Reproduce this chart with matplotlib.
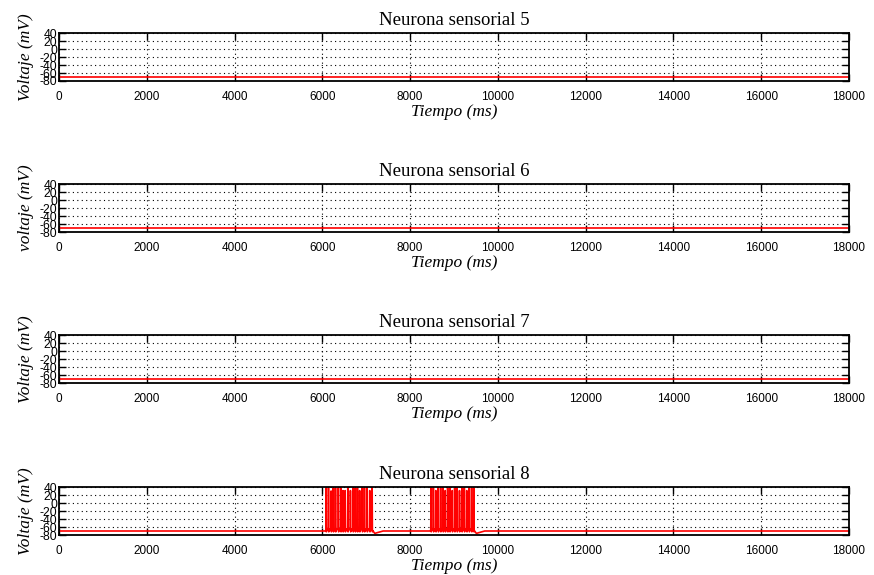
import numpy as np
import matplotlib.pyplot as plt

burst1_times = [6085, 6140, 6200, 6250, 6300, 6365, 6420, 6470, 6520, 6580,
                6640, 6700, 6750, 6800, 6850, 6910, 6960, 7020, 7080, 7135]
burst1_peaks = [38, 38, 30, 38, 38, 38, 38, 31, 31, 38,
                31, 38, 38, 38, 31, 38, 38, 38, 31, 38]
burst2_times = [8475, 8530, 8585, 8640, 8695, 8750, 8800, 8855, 8905, 8960,
                9015, 9070, 9125, 9180, 9235, 9290, 9345, 9400, 9450]
burst2_peaks = [38, 38, 31, 38, 38, 38, 31, 38, 38, 31,
                38, 38, 31, 38, 38, 31, 38, 38, 38]

rest_v = -70
t_end = 18000

titles = ["Neurona sensorial 5", "Neurona sensorial 6",
          "Neurona sensorial 7", "Neurona sensorial 8"]
ylabels = ["Voltaje (mV)", "voltaje (mV)", "Voltaje (mV)", "Voltaje (mV)"]
xticks = list(range(0, 18001, 2000))
yticks = [-80, -60, -40, -20, 0, 20, 40]


def build_trace(bursts):
    t = [0]
    v = [rest_v]
    for times, peaks in bursts:
        t.append(times[0] - 20)
        v.append(rest_v)
        for i, (ts, pk) in enumerate(zip(times, peaks)):
            t += [ts - 4, ts, ts + 6, ts + 14]
            v += [-67, pk, -72, -69]
            if i < len(times) - 1:
                mid = (ts + times[i + 1]) / 2
                t.append(mid)
                v.append(-65)
        last = times[-1]
        t += [last + 60, last + 120, last + 250]
        v += [-76, -74, rest_v]
    t.append(t_end)
    v.append(rest_v)
    return np.array(t), np.array(v)


traces = [
    build_trace([]),
    build_trace([]),
    build_trace([]),
    build_trace([(burst1_times, burst1_peaks), (burst2_times, burst2_peaks)]),
]

fig = plt.figure(figsize=(8.74, 5.75), dpi=100)

left, width = 59 / 874, 790 / 874
tops = [33, 184, 335, 487]
height_px = 48

for k in range(4):
    bottom = 1 - (tops[k] + height_px) / 575
    ax = fig.add_axes([left, bottom, width, height_px / 575])
    t, v = traces[k]
    ax.plot(t, v, color="red", linewidth=1.2)
    ax.set_xlim(0, 18000)
    ax.set_ylim(-80, 40)
    ax.set_xticks(xticks)
    ax.set_yticks(yticks)
    ax.set_xticklabels([str(x) for x in xticks], family="Liberation Sans", fontsize=8.5)
    ax.set_yticklabels([str(y) for y in yticks], family="Liberation Sans", fontsize=8.8)
    ax.tick_params(direction="in", top=True, right=True, length=5, width=1)
    ax.tick_params(axis="x", pad=7)
    ax.tick_params(axis="y", pad=1.5)
    ax.grid(True, linestyle=(0, (1, 3)), color="black", linewidth=0.8)
    for s in ax.spines.values():
        s.set_linewidth(1.3)
    ax.set_title(titles[k], family="Liberation Serif", fontsize=13.5, pad=6)
    ax.set_xlabel("Tiempo (ms)", family="Liberation Serif", style="italic", fontsize=12.5, labelpad=1)
    ax.set_ylabel(ylabels[k], family="Liberation Serif", style="italic", fontsize=12.5, labelpad=4)

fig.savefig("out.png", dpi=100)
